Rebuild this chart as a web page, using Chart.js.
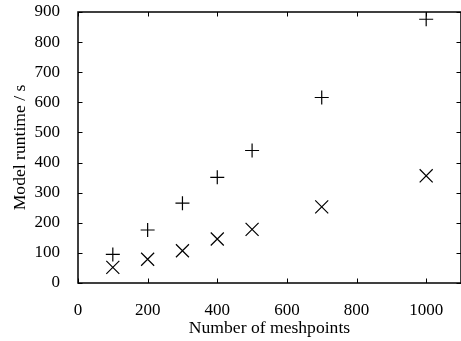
<!DOCTYPE html>
<html>
<head>
<meta charset="utf-8">
<script src="https://cdn.jsdelivr.net/npm/chart.js@4"></script>
<style>
  html, body { margin: 0; padding: 0; background: #fff; overflow: hidden; }
  #wrap { width: 461px; height: 341px; }
  canvas { display: block; }
</style>
</head>
<body>
<div id="wrap"><canvas id="c" width="461" height="341"></canvas></div>
<script>
// ---- data ----
const meshpoints   = [100, 200, 300, 400, 500, 700, 1000];
const plusSeries   = [95, 176, 265, 351, 440, 616, 876];
const crossSeries  = [52, 79, 107, 146, 178, 253, 356];
const xTickValues  = [0, 200, 400, 600, 800, 1000];
const yTickValues  = [0, 100, 200, 300, 400, 500, 600, 700, 800, 900];
const xTitle = 'Number of meshpoints';
const yTitle = 'Model runtime / s';

const FONT = '"Liberation Serif", "Times New Roman", serif';

const frame = {
  id: 'frame',
  afterDraw(chart) {
    const ctx = chart.ctx;
    const a = chart.chartArea;
    const xs = chart.scales.x, ys = chart.scales.y;
    ctx.save();
    ctx.strokeStyle = '#000';
    ctx.lineWidth = 1.5;
    ctx.strokeRect(a.left, a.top, a.right - a.left, a.bottom - a.top);
    ctx.lineWidth = 1;
    const L = 4.5;
    ctx.beginPath();
    xTickValues.forEach(v => {
      const px = Math.round(xs.getPixelForValue(v)) + 0.5;
      ctx.moveTo(px, a.bottom); ctx.lineTo(px, a.bottom - L);
      ctx.moveTo(px, a.top); ctx.lineTo(px, a.top + L);
    });
    yTickValues.forEach(v => {
      const py = Math.round(ys.getPixelForValue(v)) + 0.5;
      ctx.moveTo(a.left, py); ctx.lineTo(a.left + L, py);
      ctx.moveTo(a.right, py); ctx.lineTo(a.right - L, py);
    });
    ctx.stroke();
    ctx.fillStyle = '#000';
    ctx.font = '17.6px ' + FONT;
    ctx.textAlign = 'center';
    ctx.textBaseline = 'middle';
    ctx.translate(20, (a.top + a.bottom) / 2);
    ctx.rotate(-Math.PI / 2);
    ctx.fillText(yTitle, 0, 0);
    ctx.restore();
  }
};

function noPad(s) { s.paddingTop = 0; s.paddingBottom = 0; s.paddingLeft = 0; s.paddingRight = 0; }

new Chart(document.getElementById('c'), {
  type: 'scatter',
  data: {
    datasets: [
      {
        data: meshpoints.map((x, i) => ({ x, y: plusSeries[i] })),
        pointStyle: 'cross', pointRadius: 7, pointHoverRadius: 7,
        borderColor: '#000', backgroundColor: '#000', pointBorderWidth: 1.2
      },
      {
        data: meshpoints.map((x, i) => ({ x, y: crossSeries[i] })),
        pointStyle: 'crossRot', pointRadius: 9.2, pointHoverRadius: 9.2,
        borderColor: '#000', backgroundColor: '#000', pointBorderWidth: 1.2
      }
    ]
  },
  options: {
    responsive: false,
    devicePixelRatio: 1,
    animation: false,
    layout: { autoPadding: false, padding: { top: 12, right: -2, left: 0, bottom: 0 } },
    plugins: { legend: { display: false }, tooltip: { enabled: false } },
    scales: {
      x: {
        type: 'linear', min: 0, max: 1100,
        afterBuildTicks: s => { s.ticks = xTickValues.map(v => ({ value: v })); },
        afterFit: s => { s.height = 58; noPad(s); },
        grid: { display: false }, border: { display: false },
        ticks: { color: '#000', padding: 9, maxRotation: 0, callback: v => String(v), font: { family: FONT, size: 17 } },
        title: { display: true, text: xTitle, color: '#000', padding: { top: 0, bottom: 2.5 }, font: { family: FONT, size: 17.6 } }
      },
      y: {
        type: 'linear', min: 0, max: 900,
        afterBuildTicks: s => { s.ticks = yTickValues.map(v => ({ value: v })); },
        afterFit: s => { s.width = 78; noPad(s); },
        grid: { display: false }, border: { display: false },
        ticks: { color: '#000', padding: 10, callback: v => String(v), font: { family: FONT, size: 17 } }
      }
    }
  },
  plugins: [frame]
});
</script>
</body>
</html>
